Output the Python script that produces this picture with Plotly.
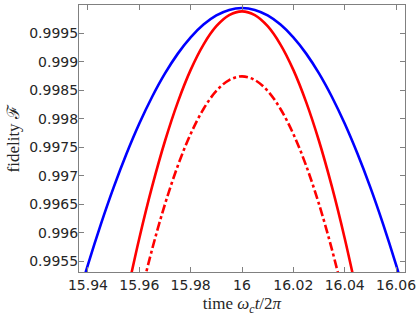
import plotly.graph_objects as go

# Time axis samples (omega_c t / 2pi)
t_blue = [15.935, 15.940, 15.945, 15.950, 15.955, 15.960, 15.965, 15.970, 15.975, 15.980,
          15.985, 15.990, 15.995, 16.000, 16.005, 16.010, 16.015, 16.020, 16.025, 16.030,
          16.035, 16.040, 16.045, 16.050, 16.055, 16.060, 16.065]
f_blue = [0.994673, 0.995439, 0.996147, 0.996796, 0.997386, 0.997917, 0.998388, 0.998798, 0.999146, 0.999432,
          0.999656, 0.999817, 0.999914, 0.999946, 0.999914, 0.999817, 0.999656, 0.999432, 0.999146, 0.998798,
          0.998388, 0.997917, 0.997386, 0.996796, 0.996147, 0.995439, 0.994673]

t_red = [15.955, 15.960, 15.965, 15.970, 15.975, 15.980, 15.985, 15.990, 15.995, 16.000,
         16.005, 16.010, 16.015, 16.020, 16.025, 16.030, 16.035, 16.040, 16.045]
f_red = [0.994886, 0.995904, 0.996813, 0.997611, 0.998294, 0.998860, 0.999305, 0.999627, 0.999822, 0.999888,
         0.999822, 0.999627, 0.999305, 0.998860, 0.998294, 0.997611, 0.996813, 0.995904, 0.994886]

t_red_dd = [15.960, 15.965, 15.970, 15.975, 15.980, 15.985, 15.990, 15.995, 16.000,
            16.005, 16.010, 16.015, 16.020, 16.025, 16.030, 16.035, 16.040]
f_red_dd = [0.994811, 0.995712, 0.996502, 0.997177, 0.997735, 0.998174, 0.998491, 0.998682, 0.998747,
            0.998682, 0.998491, 0.998174, 0.997735, 0.997177, 0.996502, 0.995712, 0.994811]

x_ticks = [15.94, 15.96, 15.98, 16.0, 16.02, 16.04, 16.06]
x_tick_labels = ["15.94", "15.96", "15.98", "16", "16.02", "16.04", "16.06"]
y_ticks = [0.9955, 0.996, 0.9965, 0.997, 0.9975, 0.998, 0.9985, 0.999, 0.9995]
y_tick_labels = ["0.9955", "0.996", "0.9965", "0.997", "0.9975", "0.998", "0.9985", "0.999", "0.9995"]

fig = go.Figure()
fig.add_trace(go.Scatter(x=t_blue, y=f_blue, mode="lines",
                         line=dict(color="#0000ff", width=2.6, shape="spline"), showlegend=False))
fig.add_trace(go.Scatter(x=t_red, y=f_red, mode="lines",
                         line=dict(color="#ff0000", width=2.6, shape="spline"), showlegend=False))
fig.add_trace(go.Scatter(x=t_red_dd, y=f_red_dd, mode="lines",
                         line=dict(color="#ff0000", width=2.6, shape="spline", dash="dashdot"), showlegend=False))

axis_common = dict(
    showgrid=False, zeroline=False, showline=True, linecolor="#808080", linewidth=1,
    mirror="ticks", ticks="inside", ticklen=5, tickcolor="#808080", tickwidth=1,
    automargin=False, ticklabeloverflow="allow",
    tickfont=dict(family="DejaVu Sans, sans-serif", size=14, color="#262626"),
)
title_font = dict(family="Liberation Serif, Times New Roman, serif", size=17, color="#262626")

fig.update_layout(
    width=416, height=318,
    margin=dict(l=79, r=11, t=5, b=46),
    paper_bgcolor="white", plot_bgcolor="white",
    xaxis=dict(range=[15.9365, 16.0635], tickvals=x_ticks, ticktext=x_tick_labels,
               title=dict(text="time <i>ω<sub>c</sub>t</i>/2<i>π</i>", standoff=5, font=title_font),
               **axis_common),
    yaxis=dict(range=[0.99531, 1.0], tickvals=y_ticks, ticktext=y_tick_labels, ticklabelstandoff=-3,
               **axis_common),
    annotations=[dict(text="fidelity ℱ", textangle=-90, xref="paper", yref="paper",
                      x=0, y=0.5, xanchor="center", yanchor="middle", xshift=-66, showarrow=False,
                      font=title_font)],
)

fig.write_html("out.html", config={"displayModeBar": False},
               post_script="document.body.style.margin='0px';")
